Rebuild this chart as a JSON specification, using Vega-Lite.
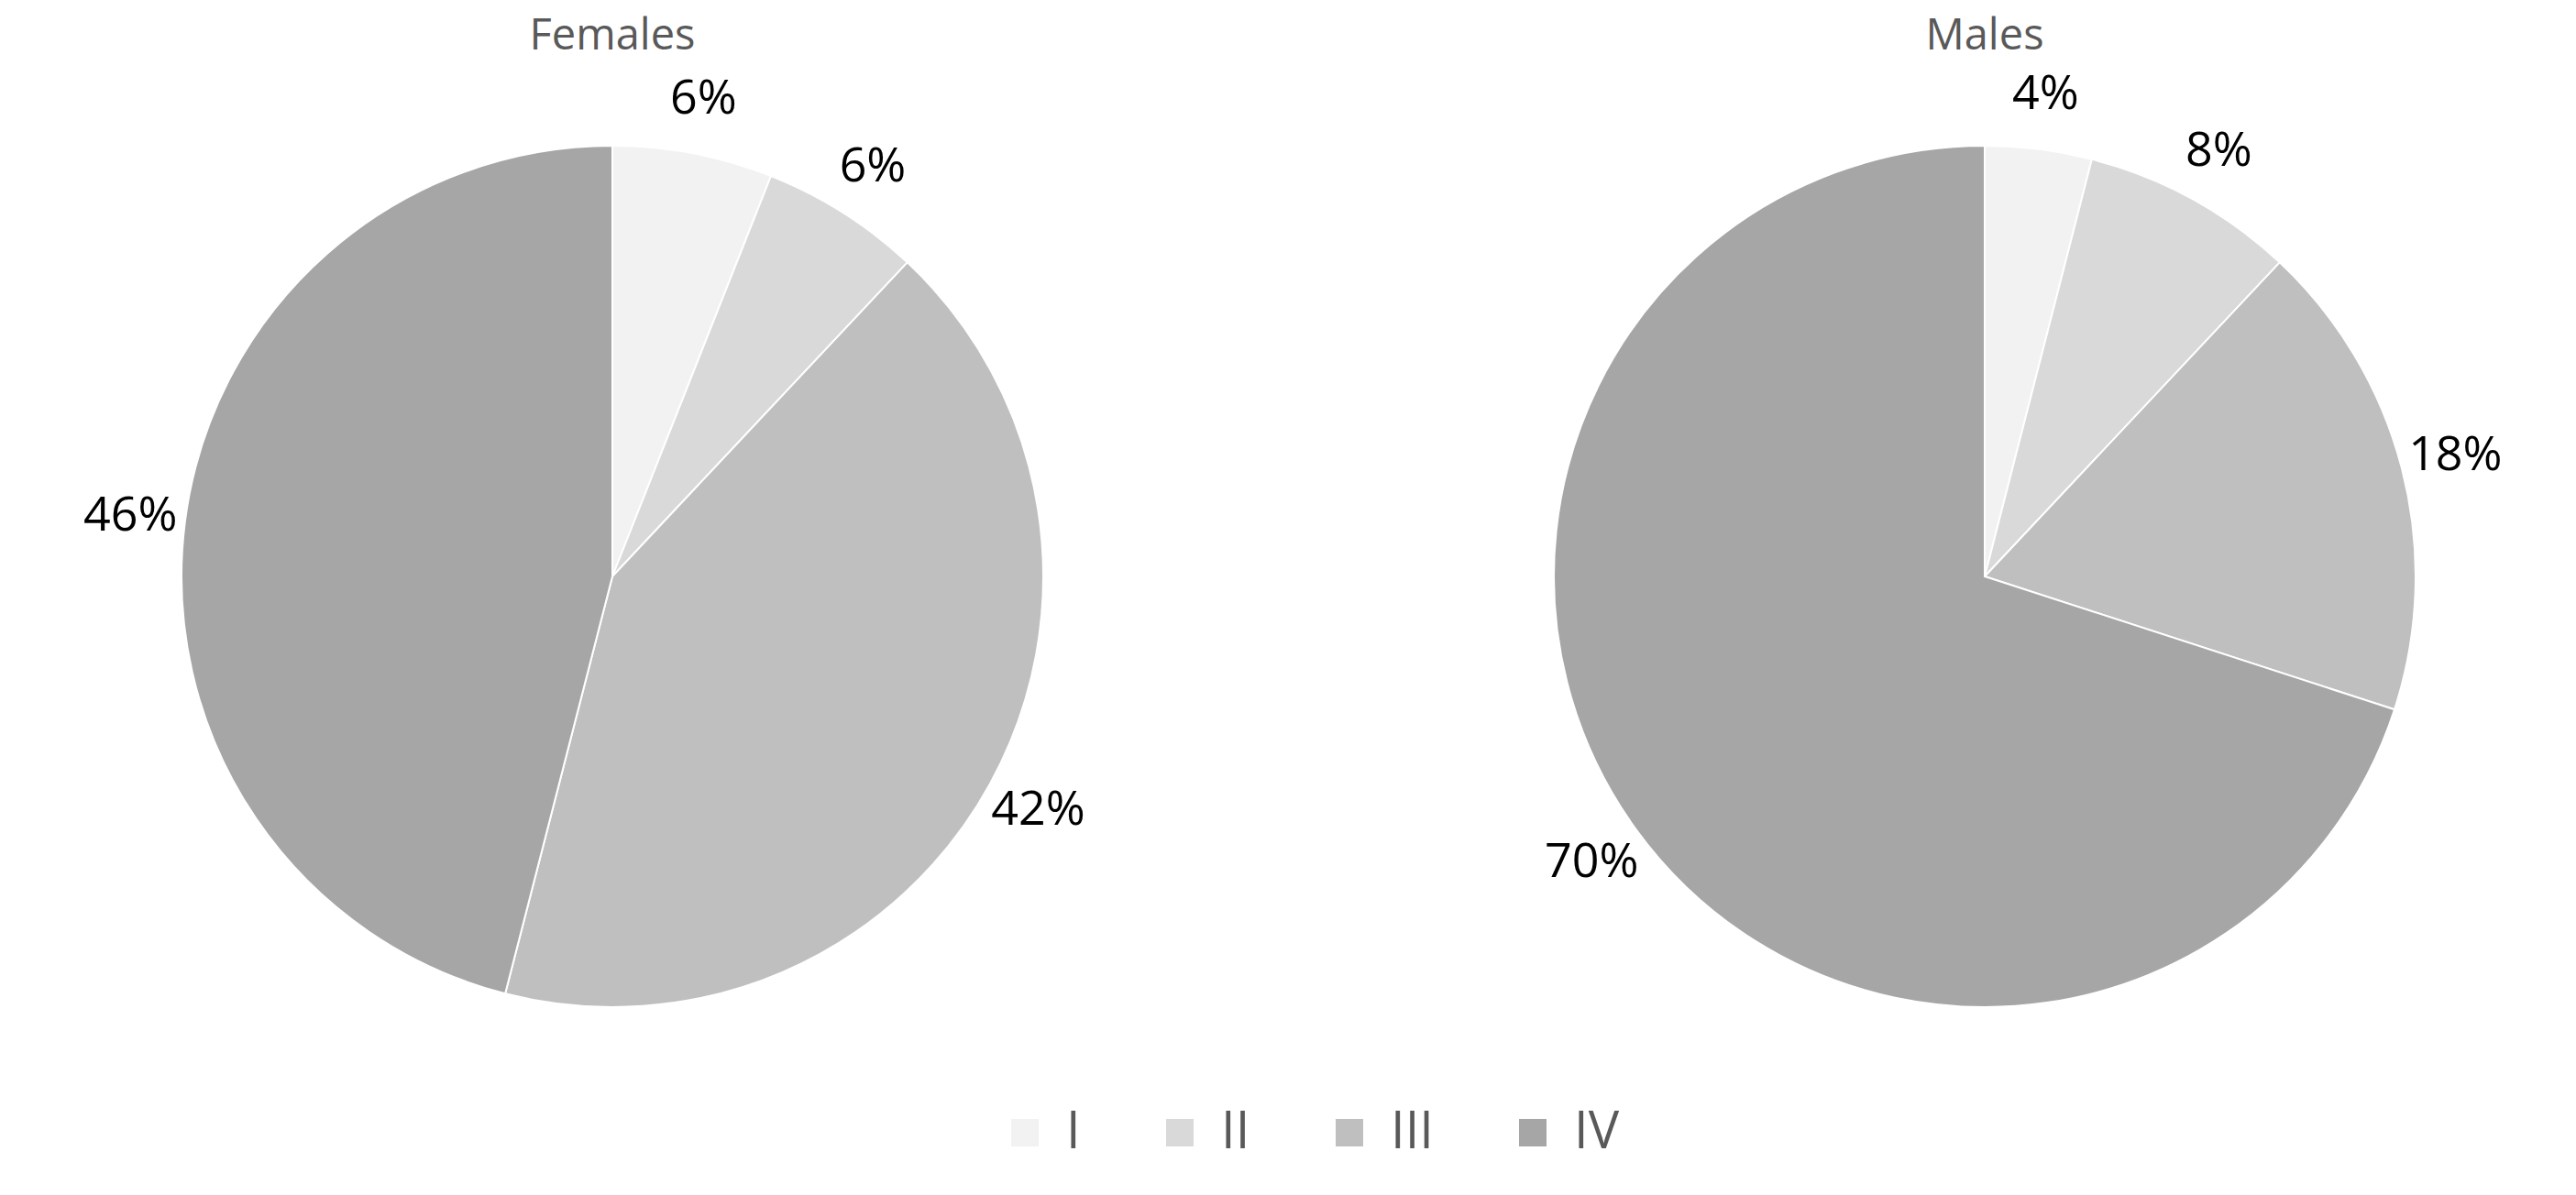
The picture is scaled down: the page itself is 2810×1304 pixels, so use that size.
{
  "$schema": "https://vega.github.io/schema/vega-lite/v6.json",
  "autosize": {"type": "none"},
  "padding": {"left": 168, "top": 54, "right": 2642, "bottom": 1250},
  "background": "white",
  "datasets": {
    "d": [
      {"sex": "Females", "stage": "I", "pct": 0.06},
      {"sex": "Females", "stage": "II", "pct": 0.06},
      {"sex": "Females", "stage": "III", "pct": 0.42},
      {"sex": "Females", "stage": "IV", "pct": 0.46},
      {"sex": "Males", "stage": "I", "pct": 0.04},
      {"sex": "Males", "stage": "II", "pct": 0.08},
      {"sex": "Males", "stage": "III", "pct": 0.18},
      {"sex": "Males", "stage": "IV", "pct": 0.70}
    ]
  },
  "data": {"name": "d"},
  "spacing": 497,
  "bounds": "flush",
  "hconcat": [
    {
      "title": {"text": "Females"},
      "width": 1000,
      "height": 1150,
      "transform": [{"filter": "datum.sex === 'Females'"}],
      "encoding": {
        "theta": {"field": "pct", "type": "quantitative", "stack": true},
        "color": {
          "field": "stage", "type": "nominal",
          "scale": {"domain": ["I", "II", "III", "IV"], "range": ["#f2f2f2", "#d9d9d9", "#bfbfbf", "#a6a6a6"]},
          "legend": {"orient": "none", "direction": "horizontal", "legendX": 922, "legendY": 1154, "title": null}
        },
        "order": {"field": "stage", "type": "nominal"}
      },
      "layer": [
        {"mark": {"type": "arc", "radius": 470, "stroke": "white", "strokeWidth": 2}},
        {"mark": {"type": "text", "radius": 530, "fontSize": 52, "font": "Open Sans", "color": "black", "align": "center", "baseline": "middle"},
         "encoding": {"text": {"field": "pct", "type": "quantitative", "format": ".0%"}, "color": {"value": "black"}}}
      ]
    },
    {
      "title": {"text": "Males"},
      "width": 1000,
      "height": 1150,
      "transform": [{"filter": "datum.sex === 'Males'"}],
      "encoding": {
        "theta": {"field": "pct", "type": "quantitative", "stack": true},
        "color": {
          "field": "stage", "type": "nominal",
          "scale": {"domain": ["I", "II", "III", "IV"], "range": ["#f2f2f2", "#d9d9d9", "#bfbfbf", "#a6a6a6"]},
          "legend": {"orient": "none", "direction": "horizontal", "legendX": 922, "legendY": 1154, "title": null}
        },
        "order": {"field": "stage", "type": "nominal"}
      },
      "layer": [
        {"mark": {"type": "arc", "radius": 470, "stroke": "white", "strokeWidth": 2}},
        {"mark": {"type": "text", "radius": 530, "fontSize": 52, "font": "Open Sans", "color": "black", "align": "center", "baseline": "middle"},
         "encoding": {"text": {"field": "pct", "type": "quantitative", "format": ".0%"}, "color": {"value": "black"}}}
      ]
    }
  ],
  "resolve": {"scale": {"color": "shared"}, "legend": {"color": "shared"}},
  "config": {
    "view": {"stroke": null},
    "title": {"font": "Open Sans", "fontSize": 47, "fontWeight": "normal", "color": "#595959", "anchor": "middle", "frame": "group", "offset": -10, "baseline": "alphabetic"},
    "legend": {
      "symbolType": "square", "symbolSize": 900, "symbolStrokeWidth": 0,
      "labelFont": "Open Sans", "labelFontSize": 56, "labelColor": "#595959",
      "labelOffset": 17, "columnPadding": 80, "padding": 0, "labelLimit": 0
    }
  }
}
